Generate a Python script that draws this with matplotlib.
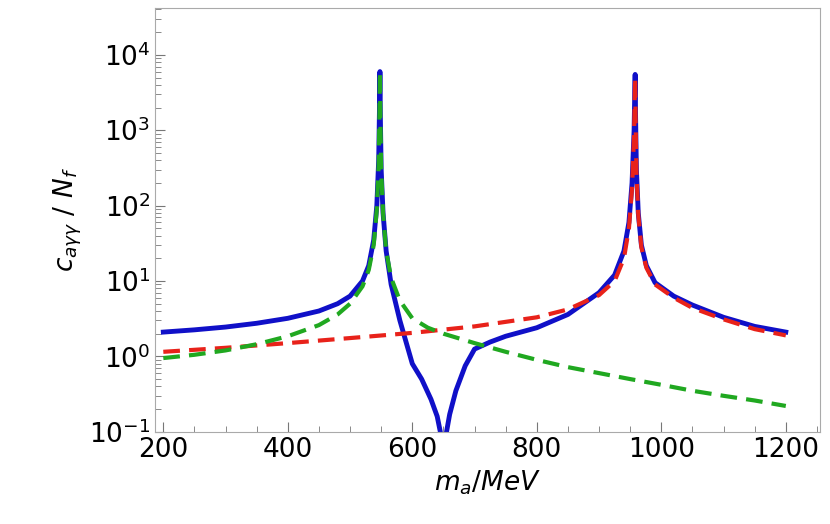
import matplotlib
matplotlib.use("Agg")
import matplotlib.pyplot as plt
from matplotlib.ticker import LogLocator, NullFormatter, MultipleLocator

# values
blue_x = [200, 250, 300, 350, 400, 450, 480, 500, 520, 530, 538, 543, 546, 547.3, 548, 548.7, 550, 553,
          558, 566, 580, 600, 615, 630, 640, 645, 650, 655, 660, 670, 685, 700, 725, 750, 800, 850, 900,
          925, 940, 948, 953, 956.3, 957.3, 958, 958.7, 960, 963, 968, 976, 990, 1020, 1050, 1100, 1150, 1200]
blue_y = [2.1, 2.25, 2.45, 2.75, 3.2, 4.0, 5.0, 6.3, 10, 16, 35, 100, 400, 2000, 6000, 1500, 300, 80,
          25, 9, 3, 0.8, 0.5, 0.27, 0.16, 0.1, 0.05, 0.1, 0.17, 0.35, 0.75, 1.25, 1.55, 1.85, 2.4, 3.6, 7,
          12, 25, 60, 200, 1000, 3000, 5500, 1500, 300, 80, 30, 16, 9.5, 6.3, 4.8, 3.3, 2.5, 2.1]

green_x = [200, 250, 300, 350, 400, 450, 480, 500, 520, 530, 538, 543, 546, 547.3, 548, 548.7, 550,
           553, 558, 566, 580, 600, 625, 650, 700, 750, 800, 850, 900, 950, 1000, 1050, 1100, 1150, 1200]
green_y = [0.95, 1.05, 1.2, 1.45, 1.85, 2.6, 3.6, 5.0, 8.5, 14, 30, 90, 350, 1800, 6000, 1500, 300,
           80, 25, 11, 5.5, 3.2, 2.4, 2.0, 1.5, 1.15, 0.9, 0.72, 0.6, 0.5, 0.42, 0.35, 0.3, 0.26, 0.22]

red_x = [200, 300, 400, 500, 600, 700, 800, 850, 900, 925, 940, 948, 953, 956.3, 957.3, 958, 958.7,
         960, 963, 968, 976, 990, 1020, 1050, 1100, 1150, 1200]
red_y = [1.15, 1.3, 1.5, 1.75, 2.05, 2.5, 3.3, 4.2, 6.5, 10, 20, 50, 170, 900, 2800, 5000, 1400, 280,
         75, 28, 15, 9, 6, 4.4, 3.1, 2.3, 1.9]

fig, ax = plt.subplots(figsize=(8.3, 5.24), dpi=100)
fig.subplots_adjust(left=0.187, right=0.988, bottom=0.176, top=0.985)

ax.plot(blue_x, blue_y, color="#1010c8", lw=3.5)
ax.plot(red_x, red_y, color="#e8221a", lw=3, dashes=(4, 2.2))
ax.plot(green_x, green_y, color="#20a820", lw=3, dashes=(4, 2.2))

ax.set_yscale("log")
ax.set_xlim(187, 1255)
ax.set_ylim(0.1, 4.2e4)
ax.xaxis.set_major_locator(MultipleLocator(200))
ax.xaxis.set_minor_locator(MultipleLocator(50))
ax.yaxis.set_major_locator(LogLocator(base=10, numticks=10))
ax.yaxis.set_minor_locator(LogLocator(base=10, subs=range(2, 10), numticks=20))
ax.yaxis.set_minor_formatter(NullFormatter())
ax.tick_params(which="both", direction="in", top=False, right=False, labelsize=19, colors="#777777",
               labelcolor="black")
ax.tick_params(which="major", length=7)
ax.tick_params(which="minor", length=4)
for s in ax.spines.values():
    s.set_color("#aaaaaa")

ax.set_xlabel(r"$m_a/MeV$", fontsize=19)
ax.set_ylabel(r"$c_{a\gamma\gamma}\ /\ N_f$", fontsize=19)

fig.savefig("out.png")
